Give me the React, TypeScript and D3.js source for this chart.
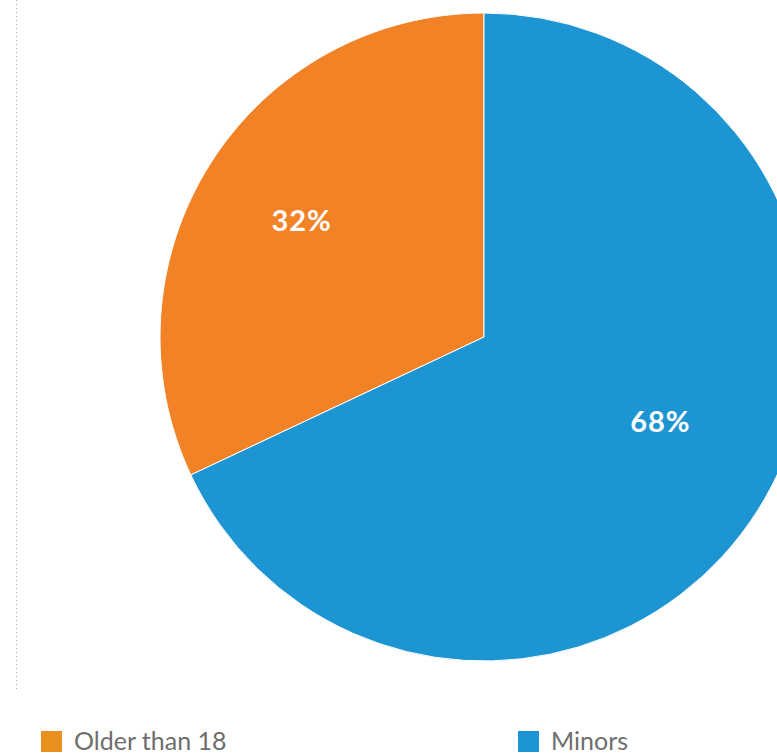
import React, { useEffect, useRef } from 'react';
import * as d3 from 'd3';

const categories = ['Older than 18', 'Minors'];
const shares = [32, 68];
const sliceColors = ['#f28226', '#1e95d3'];
const legendColors = ['#e8911f', '#1e95d3'];

const width = 777;
const height = 755;

const App: React.FC = () => {
  const svgRef = useRef<SVGSVGElement>(null);

  useEffect(() => {
    document.body.style.margin = '0';
    if (!svgRef.current) return;

    const cx = 484;
    const cy = 337;
    const radius = 324;

    const svg = d3.select(svgRef.current);
    svg.selectAll('*').remove();

    // dotted guide on the left
    svg.append('line')
      .attr('x1', 16.5).attr('x2', 16.5)
      .attr('y1', 0).attr('y2', 690)
      .attr('stroke', '#aaa')
      .attr('stroke-width', 1)
      .attr('stroke-dasharray', '1,3');

    const data = categories.map((name, i) => ({ name, value: shares[i], i }));
    type D = typeof data[number];

    // counter-clockwise from the top for the first slice
    const pie = d3.pie<D>().value(d => d.value).sort(null)
      .startAngle(-shares[0] / 100 * 2 * Math.PI)
      .endAngle(2 * Math.PI - shares[0] / 100 * 2 * Math.PI);
    const arc = d3.arc<d3.PieArcDatum<D>>().innerRadius(0).outerRadius(radius);
    const labelArc = d3.arc<d3.PieArcDatum<D>>().innerRadius(432).outerRadius(0);

    const g = svg.append('g').attr('transform', `translate(${cx},${cy})`);
    const arcs = pie(data);

    g.selectAll('path')
      .data(arcs)
      .enter()
      .append('path')
      .attr('d', arc)
      .attr('fill', d => sliceColors[d.data.i])
      .attr('stroke', '#fff')
      .attr('stroke-width', 1)
      .attr('stroke-linejoin', 'round');

    // the big slice label sits a little inward, as in the original
    const nudge: Record<string, [number, number]> = { Minors: [-6, -31] };

    g.selectAll('text')
      .data(arcs)
      .enter()
      .append('text')
      .attr('transform', d => {
        const [x, y] = labelArc.centroid(d);
        const [nx, ny] = nudge[d.data.name] || [0, 0];
        return `translate(${x + nx},${y + ny})`;
      })
      .attr('text-anchor', 'middle')
      .attr('dy', '0.35em')
      .attr('font-family', 'Lato, "Open Sans", sans-serif')
      .attr('font-size', 29)
      .attr('letter-spacing', 1)
      .attr('font-weight', 'bold')
      .attr('fill', '#fff')
      .text(d => `${d.data.value}%`);

    // legend
    const legendX = d3.scaleOrdinal<string, number>().domain(categories).range([41, 518]);
    const lg = svg.append('g');
    const items = lg.selectAll('g')
      .data(data)
      .enter()
      .append('g')
      .attr('transform', d => `translate(${legendX(d.name)},731)`);

    items.append('rect')
      .attr('width', 21)
      .attr('height', 21)
      .attr('fill', d => legendColors[d.i]);

    items.append('text')
      .attr('x', 33)
      .attr('y', 19)
      .attr('font-family', 'Lato, "Open Sans", sans-serif')
      .attr('font-size', 25)
      .attr('fill', '#6e6e6e')
      .text(d => d.name);
  }, []);

  return <svg ref={svgRef} width={width} height={height} style={{ display: 'block', overflow: 'hidden' }} />;
};

export default App;
